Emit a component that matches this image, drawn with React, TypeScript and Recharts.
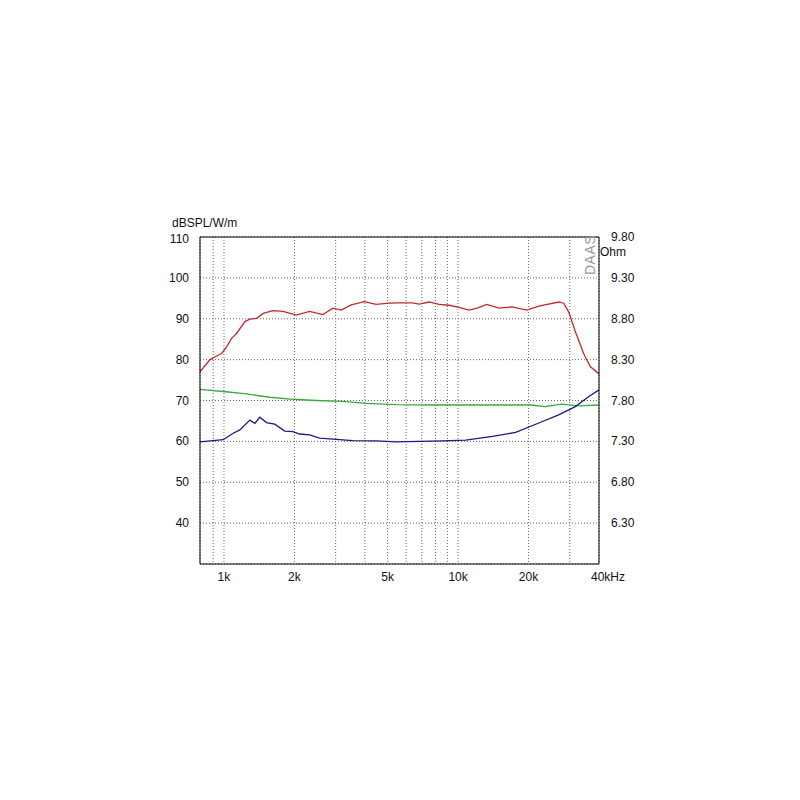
import { LineChart, Line, XAxis, YAxis, CartesianGrid, ReferenceLine } from "recharts";

// frequency (Hz) / level (dB SPL)
const splFreq = [790, 872, 916, 978, 1027, 1078, 1132, 1228, 1290, 1378, 1470, 1621, 1788, 2039, 2323, 2646, 2918, 3169, 3495, 3981, 4464, 5086, 5610, 6372, 6824, 7525, 8299, 9156, 10099, 11138, 12044, 13286, 14945, 16975, 19666, 22120, 26905, 28262, 29670, 31689, 34380, 36700, 40000];
const splDb = [77.0, 80.0, 80.7, 81.5, 83.2, 85.2, 86.4, 89.3, 89.9, 90.1, 91.3, 92.0, 91.8, 90.9, 91.8, 91.0, 92.6, 92.1, 93.4, 94.2, 93.5, 93.8, 93.9, 93.9, 93.6, 94.1, 93.5, 93.3, 92.8, 92.1, 92.6, 93.5, 92.6, 92.9, 92.1, 93.1, 94.1, 93.8, 91.7, 86.9, 81.5, 78.3, 76.5];

// green trace (left scale)
const greenFreq = [790, 993, 1249, 1570, 1972, 2481, 3216, 4050, 5446, 7768, 12638, 20546, 23553, 27720, 32650, 40000];
const greenDb = [72.7, 72.2, 71.6, 70.8, 70.3, 70.0, 69.8, 69.3, 69.0, 68.9, 68.9, 68.9, 68.5, 69.1, 68.7, 68.9];

// impedance trace (right scale, Ohm)
const impFreq = [790, 993, 1095, 1170, 1290, 1355, 1423, 1519, 1648, 1818, 1972, 2105, 2323, 2561, 3017, 3548, 4464, 5446, 8589, 10783, 14020, 17617, 22120, 26905, 31689, 36080, 40000];
const impOhm = [7.295, 7.32, 7.4, 7.44, 7.56, 7.52, 7.595, 7.53, 7.51, 7.425, 7.42, 7.39, 7.38, 7.34, 7.325, 7.31, 7.305, 7.295, 7.305, 7.315, 7.36, 7.41, 7.525, 7.625, 7.725, 7.845, 7.93];

const freqTicks = [900, 1000, 2000, 3000, 4000, 5000, 6000, 7000, 8000, 9000, 10000, 20000, 30000, 40000];
const freqLabels: Record<number, string> = { 1000: "1k", 2000: "2k", 5000: "5k", 10000: "10k", 20000: "20k", 40000: "40kHz" };
const dbTicks = [30, 40, 50, 60, 70, 80, 90, 100, 110];
const ohmTicks = [5.8, 6.3, 6.8, 7.3, 7.8, 8.3, 8.8, 9.3, 9.8];

const splData = splFreq.map((f, i) => ({ f, v: splDb[i] }));
const greenData = greenFreq.map((f, i) => ({ f, v: greenDb[i] }));
const impData = impFreq.map((f, i) => ({ f, v: impOhm[i] }));

const FONT = "'Liberation Sans', Arial, sans-serif";

function FreqTick({ x, y, payload }: any) {
  const label = freqLabels[payload.value];
  if (!label) return <g />;
  const last = payload.value === 40000;
  return (
    <text x={last ? x - 8 : x} y={y + 9} textAnchor={last ? "start" : "middle"} fontSize={12} fontFamily={FONT} fill="#111">
      {label}
    </text>
  );
}

function DbTick({ x, y, payload }: any) {
  if (payload.value === 30) return <g />;
  // top label sits a little lower, under the unit text
  const dy = payload.value === 110 ? 6 : 4;
  return (
    <text x={x - 3} y={y + dy} textAnchor="end" fontSize={12} fontFamily={FONT} fill="#111">
      {payload.value}
    </text>
  );
}

function OhmTick({ x, y, payload }: any) {
  if (payload.value === 5.8) return <g />;
  return (
    <text x={x + 4} y={y + 4} textAnchor="start" fontSize={12} fontFamily={FONT} fill="#111">
      {payload.value.toFixed(2)}
    </text>
  );
}

export default function App() {
  return (
    <div style={{ position: "absolute", left: 0, top: 0, width: 800, height: 800, background: "#fff", fontFamily: FONT }}>
      <LineChart width={800} height={800} margin={{ top: 237, right: 161, bottom: 206, left: 160 }}>
        <CartesianGrid yAxisId="left" stroke="#666" strokeDasharray="1 2" />
        <XAxis
          dataKey="f"
          type="number"
          scale="log"
          domain={[790, 40000]}
          ticks={freqTicks}
          allowDataOverflow
          height={30}
          tickLine={false}
          axisLine={{ stroke: "#000" }}
          tick={<FreqTick />}
          interval={0}
        />
        <YAxis
          yAxisId="left"
          domain={[30, 110]}
          ticks={dbTicks}
          width={40}
          tickLine={false}
          axisLine={{ stroke: "#000" }}
          tick={<DbTick />}
          interval={0}
        />
        <YAxis
          yAxisId="right"
          orientation="right"
          domain={[5.8, 9.8]}
          ticks={ohmTicks}
          width={40}
          tickLine={false}
          axisLine={{ stroke: "#000" }}
          tick={<OhmTick />}
          interval={0}
        />
        <ReferenceLine yAxisId="left" y={110} stroke="#000" />
        <Line yAxisId="left" data={greenData} dataKey="v" type="linear" stroke="#3da83d" strokeWidth={1.3} dot={false} isAnimationActive={false} />
        <Line yAxisId="right" data={impData} dataKey="v" type="linear" stroke="#1c1c84" strokeWidth={1.3} dot={false} isAnimationActive={false} />
        <Line yAxisId="left" data={splData} dataKey="v" type="linear" stroke="#c4282c" strokeWidth={1.3} dot={false} isAnimationActive={false} />
      </LineChart>
      <div style={{ position: "absolute", left: 172, top: 216, fontSize: 12, lineHeight: "14px", color: "#111", whiteSpace: "nowrap" }}>dBSPL/W/m</div>
      <div style={{ position: "absolute", left: 600, top: 245, fontSize: 12, color: "#111" }}>Ohm</div>
      <div
        style={{
          position: "absolute",
          left: 570,
          top: 247,
          width: 40,
          textAlign: "center",
          fontSize: 14,
          color: "#999",
          transform: "rotate(-90deg)",
          letterSpacing: 0.5,
          lineHeight: "16px",
        }}
      >
        DAAS
      </div>
    </div>
  );
}
